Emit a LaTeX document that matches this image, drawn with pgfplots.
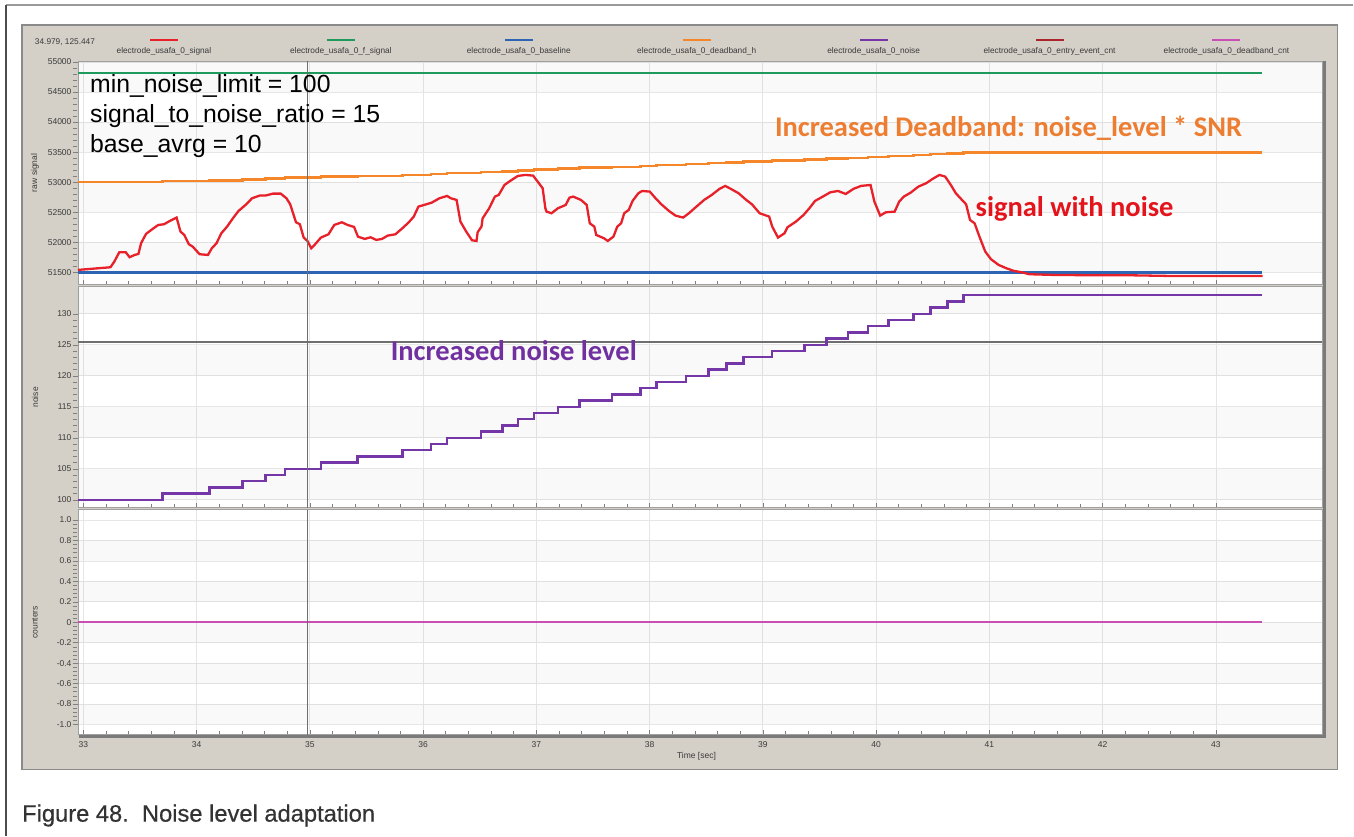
\documentclass[border=0pt]{standalone}
\usepackage{fontspec}
\setmainfont{Liberation Sans}
\newfontfamily\carlito{Carlito}
\usepackage{pgfplots}
\pgfplotsset{compat=1.18}
\definecolor{sigred}{HTML}{E8202A}
\definecolor{fgreen}{HTML}{1E9A5C}
\definecolor{baseblue}{HTML}{2E64B4}
\definecolor{dborange}{HTML}{F5872A}
\definecolor{noisepurple}{HTML}{7536A8}
\definecolor{entryred}{HTML}{A8262C}
\definecolor{dbmagenta}{HTML}{C94FB5}
\definecolor{txtorange}{HTML}{ED7D31}
\definecolor{txtred}{HTML}{E3141B}
\definecolor{txtpurple}{HTML}{7030A0}
\definecolor{panelgray}{HTML}{D4D0C8}
\definecolor{framegray}{HTML}{8A8A8A}
\definecolor{bordergray}{HTML}{9A9A9A}
\definecolor{gridc}{HTML}{E6E6E6}
\definecolor{axisc}{HTML}{A0A0A0}
\definecolor{tickc}{HTML}{808080}
\definecolor{ticklab}{HTML}{3A3A3A}
\definecolor{cursorc}{HTML}{6E6E6E}
\definecolor{shadowc}{HTML}{7A7A7A}
\definecolor{captxt}{HTML}{333333}

\tikzset{band/.style={fill=black, fill opacity=0.022, draw=none}}
\pgfplotsset{
  panel/.style={
    scale only axis, width=1245pt,
    xmin=32.953, xmax=43.941,
    xtick={33,34,35,36,37,38,39,40,41,42,43},
    minor x tick num=4,
    scaled y ticks=false,
    xtick pos=bottom, ytick pos=left, tick align=inside,
    grid=major, major grid style={draw=gridc, line width=0.7pt},
    axis line style={draw=axisc, line width=0.8pt},
    axis background/.style={fill=white},
    major tick length=5pt, minor tick length=4pt,
    tick style={draw=tickc, line width=0.5pt},
    y tick style={xshift=-5pt},
    tick label style={font=\fontsize{8.5}{10}\selectfont, text=ticklab},
    yticklabel style={xshift=-3pt},
    label style={font=\fontsize{8.5}{10}\selectfont, text=ticklab},
    ylabel style={at={(axis description cs:-0.0345,0.5)}, anchor=center},
  },
  cursor/.style={draw=cursorc, line width=1.5pt, forget plot},
}

\begin{document}
\begin{tikzpicture}[x=1pt,y=1pt]
\fill[white] (0,0) rectangle (1354,836);
\draw[bordergray, line width=1.2pt] (1354,831) -- (6,831);
\draw[black!70, line width=2pt] (6,0) -- (6,831);
\fill[panelgray] (22,66) rectangle (1338,811);
\draw[framegray, line width=1.5pt] (22,66) rectangle (1338,811);

% ---------- panel 1: raw signal ----------
\begin{axis}[panel, at={(78pt,551pt)}, anchor=south west, height=224pt,
  ymin=51290, ymax=55017,
  ytick={51500,52000,52500,53000,53500,54000,54500,55000},
  yticklabels={51500,52000,52500,53000,53500,54000,54500,55000},
  minor y tick num=4, xticklabels={}, ylabel={raw signal}]
\fill[band] (axis cs:32.953,51500) rectangle (axis cs:43.941,52000);
\fill[band] (axis cs:32.953,52500) rectangle (axis cs:43.941,53000);
\fill[band] (axis cs:32.953,53500) rectangle (axis cs:43.941,54000);
\fill[band] (axis cs:32.953,54500) rectangle (axis cs:43.941,55000);
\addplot[fgreen, line width=2.5pt] coordinates {(32.953,54817) (43.41,54817)};
\addplot[baseblue, line width=3pt, const plot] coordinates {(32.953,51488) (33.645,51497) (43.41,51497)};
\addplot[dborange, line width=2.5pt, const plot] coordinates {
(32.953,53000) (33.70,53015) (34.115,53030) (34.405,53045) (34.61,53060) (34.78,53075)
(35.10,53090) (35.42,53105) (35.82,53120) (36.07,53135) (36.21,53150) (36.51,53165)
(36.70,53180) (36.84,53195) (36.98,53210) (37.19,53225) (37.38,53240) (37.67,53255)
(37.92,53270) (38.06,53285) (38.32,53300) (38.52,53315) (38.68,53330) (38.83,53345)
(39.08,53360) (39.37,53375) (39.56,53390) (39.75,53405) (39.93,53420) (40.11,53435)
(40.33,53450) (40.48,53465) (40.63,53480) (40.77,53495) (43.41,53495)};
\addplot[sigred, line width=2.3pt] coordinates {
(32.953,51539) (33.240,51583) (33.274,51677) (33.318,51833) (33.375,51833) (33.409,51750)
(33.453,51788) (33.487,51805) (33.510,51982) (33.554,52138) (33.612,52221) (33.662,52287)
(33.713,52299) (33.764,52354) (33.824,52410) (33.858,52177) (33.892,52121) (33.932,51966)
(33.966,51927) (34.027,51800) (34.101,51788) (34.135,51899) (34.176,51982) (34.219,52149)
(34.270,52260) (34.321,52398) (34.371,52521) (34.439,52631) (34.490,52731) (34.557,52776)
(34.608,52776) (34.675,52809) (34.743,52809) (34.794,52731) (34.827,52631) (34.878,52332)
(34.912,52299) (34.946,52077) (34.979,52021) (35.013,51899) (35.047,51966) (35.098,52077)
(35.165,52132) (35.216,52287) (35.283,52332) (35.334,52287) (35.391,52254) (35.425,52093)
(35.486,52055) (35.537,52082) (35.587,52038) (35.638,52055) (35.688,52110) (35.756,52132)
(35.824,52243) (35.874,52332) (35.918,52426) (35.959,52593) (36.009,52620) (36.077,52659)
(36.144,52731) (36.212,52770) (36.246,52731) (36.296,52704) (36.330,52343) (36.381,52177)
(36.432,52032) (36.472,52021) (36.482,52166) (36.516,52260) (36.526,52398) (36.584,52565)
(36.634,52759) (36.668,52787) (36.719,52953) (36.769,53020) (36.837,53103) (36.904,53120)
(36.972,53108) (37.023,52981) (37.056,52898) (37.080,52565) (37.090,52509) (37.134,52482)
(37.191,52565) (37.259,52620) (37.293,52742) (37.326,52759) (37.394,52704) (37.445,52620)
(37.472,52315) (37.512,52260) (37.529,52121) (37.597,52066) (37.631,52021) (37.681,52093)
(37.715,52260) (37.749,52315) (37.776,52482) (37.816,52537) (37.850,52687) (37.901,52815)
(37.935,52853) (38.002,52842) (38.053,52731) (38.104,52631) (38.171,52521) (38.229,52443)
(38.296,52410) (38.347,52482) (38.414,52593) (38.482,52704) (38.549,52787) (38.617,52887)
(38.668,52937) (38.718,52887) (38.786,52815) (38.853,52704) (38.904,52631) (38.972,52482)
(39.056,52426) (39.083,52260) (39.134,52077) (39.191,52149) (39.218,52249) (39.292,52343)
(39.360,52454) (39.411,52565) (39.461,52687) (39.529,52759) (39.596,52831) (39.664,52853)
(39.732,52803) (39.799,52887) (39.867,52937) (39.951,52953) (39.985,52676) (40.036,52443)
(40.086,52498) (40.164,52509) (40.204,52676) (40.245,52759) (40.306,52826) (40.373,52925)
(40.441,52981) (40.508,53064) (40.559,53120) (40.610,53092) (40.660,52953) (40.704,52815)
(40.745,52731) (40.795,52631) (40.829,52371) (40.870,52315) (40.907,52121) (40.941,51955)
(40.964,51844) (41.015,51716) (41.082,51622) (41.150,51566) (41.218,51522) (41.285,51500)
(41.353,51467) (41.556,51456) (41.893,51450) (42.231,51450) (42.568,51439) (42.906,51439)
(43.412,51439)};
\addplot[cursor] coordinates {(34.979,51290) (34.979,55017)};
\end{axis}

% ---------- panel 2: noise ----------
\begin{axis}[panel, at={(78pt,328pt)}, anchor=south west, height=221pt,
  ymin=98.71, ymax=134.35,
  ytick={100,105,110,115,120,125,130},
  yticklabels={100,105,110,115,120,125,130},
  minor y tick num=4, xticklabels={}, ylabel={noise}]
\fill[band] (axis cs:32.953,100) rectangle (axis cs:43.941,105);
\fill[band] (axis cs:32.953,110) rectangle (axis cs:43.941,115);
\fill[band] (axis cs:32.953,120) rectangle (axis cs:43.941,125);
\fill[band] (axis cs:32.953,130) rectangle (axis cs:43.941,134.35);
\addplot[cursor] coordinates {(32.953,125.447) (43.941,125.447)};
\addplot[noisepurple, line width=2.5pt, const plot] coordinates {
(32.953,100) (33.70,101) (34.115,102) (34.405,103) (34.61,104) (34.78,105)
(35.10,106) (35.42,107) (35.82,108) (36.07,109) (36.21,110) (36.51,111)
(36.70,112) (36.84,113) (36.98,114) (37.19,115) (37.38,116) (37.67,117)
(37.92,118) (38.06,119) (38.32,120) (38.52,121) (38.68,122) (38.83,123)
(39.08,124) (39.37,125) (39.56,126) (39.75,127) (39.93,128) (40.11,129)
(40.33,130) (40.48,131) (40.63,132) (40.77,133) (43.41,133)};
\addplot[cursor] coordinates {(34.979,98.71) (34.979,134.35)};
\end{axis}

% ---------- panel 3: counters ----------
\begin{axis}[panel, at={(78pt,101pt)}, anchor=south west, height=225pt,
  ymin=-1.1, ymax=1.1,
  ytick={-1,-0.8,-0.6,-0.4,-0.2,0,0.2,0.4,0.6,0.8,1},
  yticklabels={-1.0,-0.8,-0.6,-0.4,-0.2,0,0.2,0.4,0.6,0.8,1.0},
  minor y tick num=4,
  xticklabels={33,34,35,36,37,38,39,40,41,42,43},
  xticklabel style={yshift=-3pt},
  xlabel={Time [sec]},
  xlabel style={at={(axis description cs:0.497,-0.098)}, anchor=center},
  ylabel={counters}]
\fill[band] (axis cs:32.953,-1.0) rectangle (axis cs:43.941,-0.8);
\fill[band] (axis cs:32.953,-0.6) rectangle (axis cs:43.941,-0.4);
\fill[band] (axis cs:32.953,-0.2) rectangle (axis cs:43.941,0);
\fill[band] (axis cs:32.953,0.2) rectangle (axis cs:43.941,0.4);
\fill[band] (axis cs:32.953,0.6) rectangle (axis cs:43.941,0.8);
\addplot[entryred, line width=2.5pt] coordinates {(32.953,0) (43.41,0)};
\addplot[dbmagenta, line width=2.5pt] coordinates {(32.953,0) (43.41,0)};
\addplot[cursor] coordinates {(34.979,-1.1) (34.979,1.1)};
\end{axis}

% shadow edges of the plot area
\draw[shadowc, line width=3pt] (79,99.5) -- (1325,99.5) -- (1325,775);

% legend strip
\begin{scope}[every node/.style={font=\fontsize{8.3}{10}\selectfont, text=ticklab}]
\node at (65,794) {34.979, 125.447};
\foreach \cx/\col/\lab in {164/sigred/electrode\_usafa\_0\_signal,
  341/fgreen/electrode\_usafa\_0\_f\_signal,
  519/baseblue/electrode\_usafa\_0\_baseline,
  697/dborange/electrode\_usafa\_0\_deadband\_h,
  874/noisepurple/electrode\_usafa\_0\_noise,
  1050/entryred/electrode\_usafa\_0\_entry\_event\_cnt,
  1227/dbmagenta/electrode\_usafa\_0\_deadband\_cnt}{
  \draw[\col, line width=2.5pt] (\cx-14,796) -- (\cx+14,796);
  \node at (\cx,785) {\lab};
}
\end{scope}

% annotations
\begin{scope}[every node/.style={font=\fontsize{24.8}{30}\selectfont, anchor=west, inner sep=0pt}]
\node at (90,750) {min\_noise\_limit = 100};
\node at (90,720) {signal\_to\_noise\_ratio = 15};
\node at (90,690) {base\_avrg = 10};
\end{scope}
\node[font=\carlito\bfseries\fontsize{28.5}{32}\selectfont, text=txtorange] at (1009,708) {Increased Deadband: noise\_level * SNR};
\node[font=\carlito\bfseries\fontsize{28.5}{32}\selectfont, text=txtred] at (1075,627) {signal with noise};
\node[font=\carlito\bfseries\fontsize{28.5}{32}\selectfont, text=txtpurple] at (514,485) {Increased noise level};

% caption
\node[anchor=base west, inner sep=0pt, font=\addfontfeature{FakeBold=0.5}\fontsize{23.7}{26}\selectfont, text=captxt] at (22,14) {Figure 48.\ \ Noise level adaptation};
\end{tikzpicture}
\end{document}
